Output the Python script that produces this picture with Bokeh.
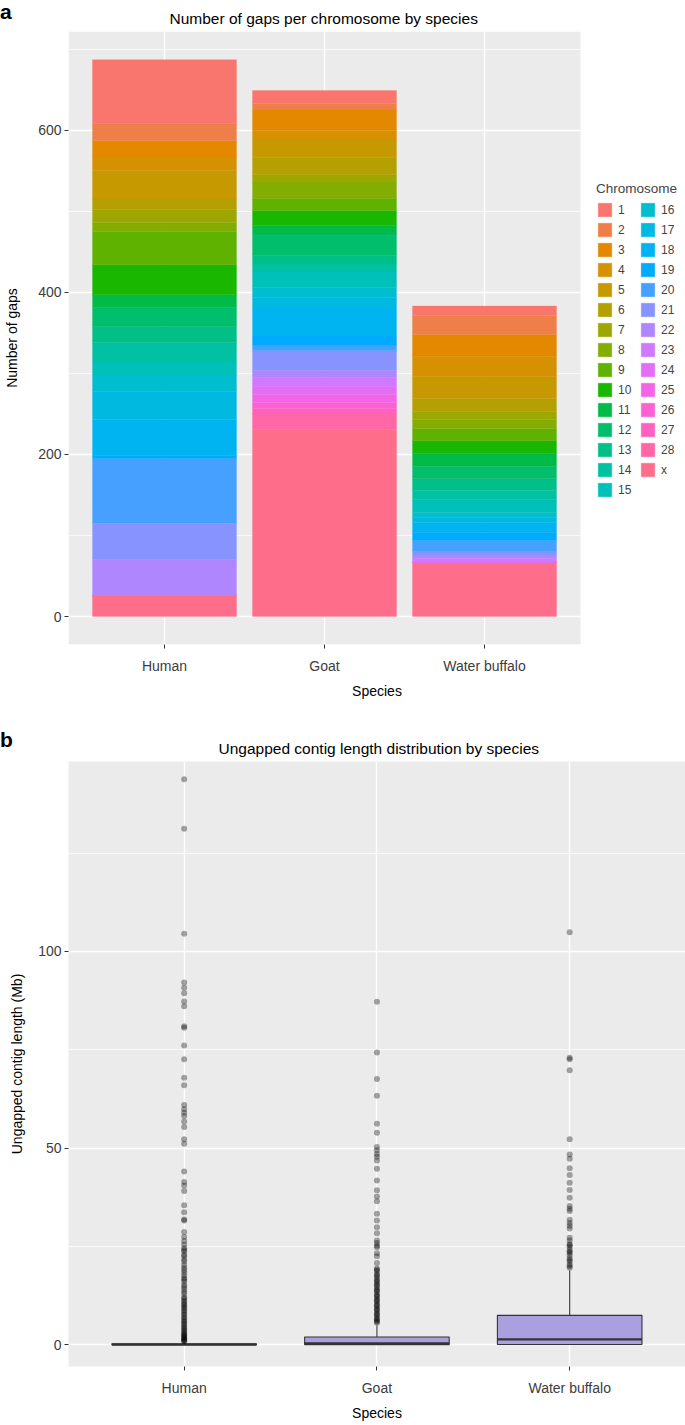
import math
from bokeh.plotting import figure
from bokeh.models import (ColumnDataSource, Range1d, FixedTicker, SingleIntervalTicker,
                          Legend, LegendItem, BoxAnnotation, Div)
from bokeh.layouts import column
from bokeh.embed import file_html
from bokeh.resources import INLINE

# ---------------- data ----------------
species = ["Human", "Goat", "Water buffalo"]
chromosomes = [str(i) for i in range(1, 29)] + ["x"]

gaps_human = [79, 21, 20, 17, 35, 13, 16, 11, 41, 37, 16, 23, 20, 24, 16, 20, 35, 44, 4,
              80, 45, 44, 0, 0, 0, 0, 0, 0, 26]
gaps_goat = [16, 8, 25, 12, 22, 21, 9, 20, 15, 19, 10, 27, 10, 10, 19, 12, 12, 36, 11,
             7, 24, 9, 11, 10, 10, 7, 7, 19, 231]
gaps_buffalo = [12, 23, 27, 25, 27, 16, 10, 11, 15, 16, 16, 15, 14, 12, 16, 6, 6, 12, 10,
                14, 4, 4, 5, 0, 0, 0, 0, 0, 67]

box_lower = [0.0, 0.0, 0.0]
box_q1 = [0.02, 0.05, 0.1]
box_median = [0.08, 0.4, 1.4]
box_q3 = [0.3, 2.0, 7.5]
box_upper = [0.7, 4.9, 18.9]

outliers_human = [143.8, 131.2, 104.5, 92.1, 90.8, 89.4, 87.3, 86.1, 81.0, 80.6, 76.1, 72.6,
                  67.9, 66.0, 61.0, 59.9, 59.0, 58.2, 56.8, 55.4, 52.3, 51.1, 44.1, 41.4,
                  40.5, 39.1, 35.5, 33.7, 31.9, 31.6, 28.7, 27.4, 26.4, 25.5, 24.6, 23.8,
                  22.5, 21.7, 20.3, 19.0, 18.4, 17.0, 16.1, 15.3, 14.2, 13.0, 12.1, 11.3,
                  10.4, 9.6, 8.8, 7.9, 7.0, 6.2, 5.4, 4.6, 3.9, 3.2, 2.6, 2.1, 1.6, 1.2, 0.9,
                  11.8, 10.9, 10.1, 9.3, 8.4, 7.6, 6.7, 5.9, 5.1, 4.3, 3.6, 2.9, 2.4, 1.9,
                  1.4, 1.05, 24.1, 22.9, 21.2, 19.6, 17.7, 16.6, 14.8, 13.5]
outliers_goat = [87.2, 74.3, 67.6, 63.3, 56.2, 53.9, 50.3, 49.5, 48.5, 47.8, 46.9, 44.8,
                 41.8, 39.3, 37.7, 36.5, 33.3, 31.6, 29.9, 28.4, 26.5, 25.9, 25.2, 24.8,
                 23.3, 22.5, 20.8, 19.4, 18.8, 18.0, 17.3, 16.7, 16.0, 15.4, 14.7, 14.1,
                 13.5, 12.8, 12.2, 11.6, 11.0, 10.4, 9.8, 9.2, 8.6, 8.0, 7.4, 6.8, 6.2, 5.6,
                 19.1, 17.7, 16.3, 15.1, 13.8, 12.5, 11.3, 10.1, 8.9, 7.7, 6.5, 5.9]
outliers_buffalo = [104.9, 73.0, 72.6, 69.8, 52.3, 48.4, 47.3, 44.9, 43.2, 41.2, 39.4, 37.4,
                    35.3, 34.6, 34.0, 31.8, 31.0, 30.3, 29.6, 27.2, 26.5, 25.6, 24.9, 24.1,
                    23.4, 22.8, 22.0, 21.2, 20.4, 19.6, 25.3, 23.7, 21.6, 20.0]

FONT = "Liberation Sans"
PANEL_BG = "#EBEBEB"
TICK_COL = "#3C3C3C"


def hcl_hex(h, c=100.0, l=65.0):
    Xn, Yn, Zn = 95.047, 100.0, 108.883
    den = Xn + 15 * Yn + 3 * Zn
    un, vn = 4 * Xn / den, 9 * Yn / den
    hr = math.radians(h)
    U, V = c * math.cos(hr), c * math.sin(hr)
    Y = Yn * ((l + 16) / 116) ** 3 if l > 8 else Yn * l / 903.3
    t = 13 * l
    u, v = U / t + un, V / t + vn
    X = 9.0 * Y * u / (4 * v)
    Z = -X / 3 - 5 * Y + 3 * Y / v
    X, Y, Z = X / 100, Y / 100, Z / 100
    rgb = [3.240479 * X - 1.537150 * Y - 0.498535 * Z,
           -0.969256 * X + 1.875992 * Y + 0.041556 * Z,
           0.055648 * X - 0.204043 * Y + 1.057311 * Z]
    out = []
    for ch in rgb:
        ch = 1.055 * ch ** (1 / 2.4) - 0.055 if ch > 0.0031308 else 12.92 * ch
        ch = min(1.0, max(0.0, ch))
        out.append(int(round(ch * 255)))
    return "#%02X%02X%02X" % tuple(out)


n = len(chromosomes)
colors = [hcl_hex(15 + 360.0 * i / n) for i in range(n)]
xs = [i + 1 for i in range(len(species))]


def style_axes(p, tick_size, label_size):
    for ax in (p.xaxis[0], p.yaxis[0]):
        ax.axis_line_color = None
        ax.major_tick_line_color = "#333333"
        ax.major_tick_out = 4
        ax.major_tick_in = 0
        ax.minor_tick_line_color = None
        ax.major_label_text_font = FONT
        ax.major_label_text_font_size = tick_size
        ax.major_label_text_color = TICK_COL
        ax.axis_label_text_font = FONT
        ax.axis_label_text_font_size = label_size
        ax.axis_label_text_font_style = "normal"
        ax.axis_label_text_color = "#000000"
    p.xgrid.grid_line_color = "white"
    p.xgrid.grid_line_width = 1.4
    p.ygrid.grid_line_color = "white"
    p.ygrid.grid_line_width = 1.4
    p.ygrid.minor_grid_line_color = "white"
    p.ygrid.minor_grid_line_width = 0.7
    p.border_fill_color = None
    p.outline_line_color = None
    p.title.text_font = FONT
    p.title.text_font_style = "normal"
    p.title.text_color = "#000000"
    p.title.align = "left"


# ---------------- panel a ----------------
p1 = figure(width=685, height=702,
            x_range=Range1d(0.4, 0.4 + 617 / 160.0), y_range=Range1d(-34.4, 721.7),
            min_border_left=68, min_border_right=0, min_border_top=31, min_border_bottom=58,
            output_backend="svg", toolbar_location=None,
            title="Number of gaps per chromosome by species")
style_axes(p1, "14px", "14px")
p1.background_fill_color = "white"
p1.add_layout(BoxAnnotation(left=0.4, right=3.6, fill_color=PANEL_BG, fill_alpha=1.0,
                            line_color=None, level="image"))
p1.title.text_font_size = "15.5px"
p1.title.standoff = 10
p1.title.offset = 101

data = {"pos": xs}
for ch, h, g, b in zip(chromosomes, gaps_human, gaps_goat, gaps_buffalo):
    data["chr_" + ch] = [h, g, b]
src = ColumnDataSource(data)

stack_order = ["chr_" + ch for ch in reversed(chromosomes)]
stack_colors = list(reversed(colors))
rends = p1.vbar_stack(stack_order, x="pos", width=0.9, source=src,
                      fill_color=stack_colors, line_color=stack_colors, line_width=0.3)
rend_by_ch = dict(zip(list(reversed(chromosomes)), rends))

p1.xaxis[0].ticker = FixedTicker(ticks=xs)
p1.xaxis[0].major_label_overrides = {x: s for x, s in zip(xs, species)}
p1.xaxis[0].axis_label = "Species"
p1.xaxis[0].major_label_standoff = 9
p1.xaxis[0].axis_label_standoff = 6
p1.yaxis[0].ticker = SingleIntervalTicker(interval=200, num_minor_ticks=2)
p1.yaxis[0].axis_label = "Number of gaps"
p1.yaxis[0].major_label_standoff = 3
p1.yaxis[0].axis_label_standoff = 15

items = [LegendItem(label=ch, renderers=[rend_by_ch[ch]]) for ch in chromosomes]
legend = Legend(items=items, ncols=2, title="Chromosome", location=(528, 146),
                orientation="vertical",
                label_text_font=FONT, label_text_font_size="12px",
                title_text_font=FONT, title_text_font_size="13.5px",
                title_text_font_style="normal", title_standoff=5,
                glyph_width=17, glyph_height=17, label_height=17, label_width=18,
                label_standoff=5, spacing=3, padding=3, margin=0,
                background_fill_alpha=0, border_line_color=None)
p1.add_layout(legend)

# ---------------- panel b ----------------
p2 = figure(width=685, height=723,
            x_range=Range1d(0.4, 0.4 + 620 / 193.7), y_range=Range1d(-5.5, 148.3),
            min_border_left=65, min_border_right=0, min_border_top=59, min_border_bottom=59,
            output_backend="svg", toolbar_location=None,
            title="Ungapped contig length distribution by species")
style_axes(p2, "14px", "14px")
p2.background_fill_color = PANEL_BG
p2.title.text_font_size = "15.5px"
p2.title.standoff = 10
p2.title.offset = 150

bx = ColumnDataSource(dict(pos=xs, lower=box_lower, q1=box_q1, med=box_median, q3=box_q3,
                           upper=box_upper,
                           x0=[x - 0.375 for x in xs], x1=[x + 0.375 for x in xs]))
p2.segment(x0="pos", y0="q3", x1="pos", y1="upper", source=bx, line_color="#333333", line_width=1.1)
p2.segment(x0="pos", y0="lower", x1="pos", y1="q1", source=bx, line_color="#333333", line_width=1.1)
p2.vbar(x="pos", width=0.75, bottom="q1", top="q3", source=bx,
        fill_color="#AAA0E0", line_color="#333333", line_width=1.1)
p2.segment(x0="x0", y0="med", x1="x1", y1="med", source=bx, line_color="#333333", line_width=2.2)

ox, oy = [], []
for x, vals in zip(xs, [outliers_human, outliers_goat, outliers_buffalo]):
    ox += [x] * len(vals)
    oy += vals
p2.scatter(ox, oy, size=6, fill_color="black", fill_alpha=0.35, line_color=None)

p2.xaxis[0].ticker = FixedTicker(ticks=xs)
p2.xaxis[0].major_label_overrides = {x: s for x, s in zip(xs, species)}
p2.xaxis[0].axis_label = "Species"
p2.xaxis[0].major_label_standoff = 9
p2.xaxis[0].axis_label_standoff = 6
p2.yaxis[0].ticker = SingleIntervalTicker(interval=50, num_minor_ticks=2)
p2.yaxis[0].axis_label = "Ungapped contig length (Mb)"
p2.yaxis[0].major_label_standoff = 3
p2.yaxis[0].axis_label_standoff = 10

LETTER = {"font-family": FONT, "font-size": "21px", "font-weight": "bold",
          "line-height": "21px", "overflow": "visible", "position": "relative",
          "z-index": "10", "color": "black"}
div_a = Div(text="a", width=30, height=0, margin=0, styles=dict(LETTER, top="1px"))
div_b = Div(text="b", width=30, height=0, margin=0, styles=dict(LETTER, top="27px"))

layout = column(div_a, p1, div_b, p2, spacing=0)
open("out.html", "w").write(file_html(layout, INLINE))
